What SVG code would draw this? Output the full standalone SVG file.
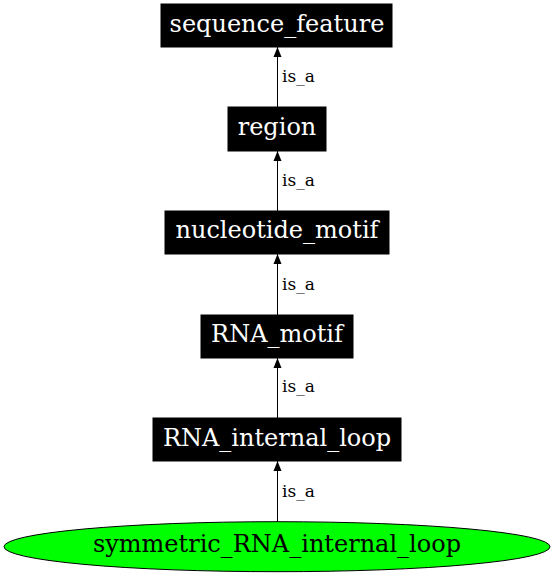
<svg xmlns="http://www.w3.org/2000/svg" width="555" height="576" viewBox="0 0 555 576">
<style>
.box{fill:#000;stroke:#000;}
.lbl{font-family:"DejaVu Serif",serif;font-size:24px;fill:#fff;text-anchor:middle;}
.el{font-family:"DejaVu Serif",serif;font-size:17px;fill:#000;}
.edge{stroke:#000;stroke-width:1;fill:none;}
</style>
<defs>
<marker id="arr" markerWidth="10" markerHeight="10" refX="10" refY="5" orient="auto" markerUnits="userSpaceOnUse">
<path d="M0,1 L10,5 L0,9 Z" fill="#000"/>
</marker>
</defs>
<rect width="555" height="576" fill="#fff"/>
<g id="connectors">
<line class="edge" x1="277.5" y1="107" x2="277.5" y2="47" marker-end="url(#arr)"/>
<text class="el" x="282" y="82">is_a</text>
<line class="edge" x1="277.5" y1="211" x2="277.5" y2="151" marker-end="url(#arr)"/>
<text class="el" x="282" y="186">is_a</text>
<line class="edge" x1="277.5" y1="315" x2="277.5" y2="254" marker-end="url(#arr)"/>
<text class="el" x="282" y="290">is_a</text>
<line class="edge" x1="277.5" y1="418" x2="277.5" y2="358" marker-end="url(#arr)"/>
<text class="el" x="282" y="392">is_a</text>
<line class="edge" x1="277.5" y1="522" x2="277.5" y2="461" marker-end="url(#arr)"/>
<text class="el" x="282" y="497">is_a</text>
</g>
<g id="sequence_feature">
<rect class="box" x="161" y="4" width="231" height="43"/>
<text class="lbl" x="277" y="32">sequence_feature</text>
</g>
<g id="region">
<rect class="box" x="228" y="107" width="98" height="44"/>
<text class="lbl" x="277" y="135">region</text>
</g>
<g id="nucleotide_motif">
<rect class="box" x="165" y="211" width="224" height="43"/>
<text class="lbl" x="277" y="238">nucleotide_motif</text>
</g>
<g id="RNA_motif">
<rect class="box" x="201" y="315" width="152" height="43"/>
<text class="lbl" x="277" y="342">RNA_motif</text>
</g>
<g id="RNA_internal_loop">
<rect class="box" x="153" y="418" width="248" height="43"/>
<text class="lbl" x="277" y="446">RNA_internal_loop</text>
</g>
<g id="symmetric_RNA_internal_loop">
<ellipse cx="277" cy="546.7" rx="273" ry="25" fill="#00ff00" stroke="#000"/>
<text class="lbl" x="277" y="552" style="fill:#000">symmetric_RNA_internal_loop</text>
</g>
</svg>
